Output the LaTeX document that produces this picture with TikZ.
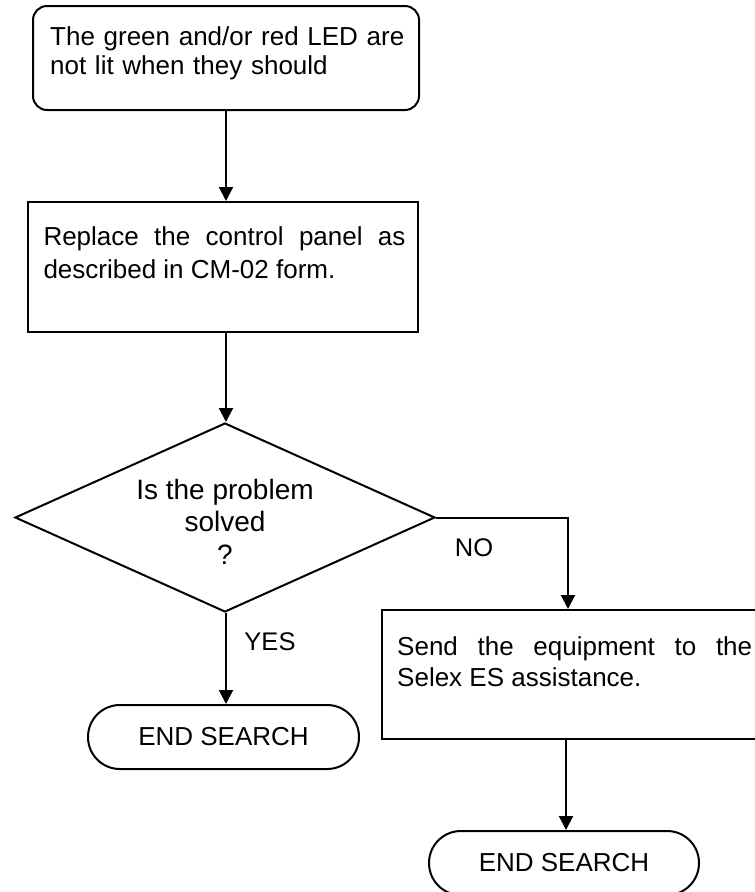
\documentclass[tikz,border=0pt]{standalone}
\usepackage{fontspec}
\setmainfont{Liberation Sans}
\usetikzlibrary{shapes.geometric,arrows.meta,calc}

\tikzset{
  every picture/.style={x=1pt,y=-1pt},
  frame/.style={draw=black,line width=2pt,inner sep=0pt,fill=white},
  procbox/.style={frame,rectangle},
  startbox/.style={frame,rectangle,rounded corners=14pt},
  termbox/.style={frame,rectangle,rounded corners=31.9pt,font=\fontsize{26}{30}\selectfont},
  decbox/.style={frame,diamond},
  bodytext/.style={inner sep=0pt,anchor=north west,align=justify},
  flow/.style={draw=black,line width=2pt,-{Triangle[length=14pt,width=14pt]}},
  tag/.style={inner sep=0pt,font=\fontsize{25.5}{30}\selectfont}
}

\begin{document}
\begin{tikzpicture}
\clip (0,0) rectangle (755,892);
\fill[white] (0,0) rectangle (755,892);

% starting condition
\node[startbox,minimum width=386pt,minimum height=104pt] (start) at (226,58) {};
\node[bodytext,text width=360pt,align=left,font=\fontsize{26}{29.3}\selectfont]
  (starttxt) at (50,24.5) {\strut The green and/or red LED are not lit when they should};

% first action
\node[procbox,minimum width=390pt,minimum height=130pt] (panel) at (223,267) {};
\node[bodytext,text width=362pt,font=\fontsize{26}{32.6}\selectfont,
  execute at begin node={\hyphenpenalty=10000}]
  (paneltxt) at (43.3,222.9) {\strut Replace the control panel as described in CM-02 form.};

% decision
\node[decbox,minimum width=420pt,minimum height=189pt] (check) at (225,517.5) {};
\node[inner sep=0pt,anchor=north,align=center,font=\fontsize{28}{32.7}\selectfont]
  (checktxt) at (225,476.1) {\strut Is the problem\\solved\\?};

% assistance action
\node[procbox,minimum width=384pt,minimum height=129pt] (assist) at (574,674.5) {};
\node[bodytext,text width=355pt,font=\fontsize{26}{30.5}\selectfont,
  execute at begin node={\hyphenpenalty=10000}]
  (assisttxt) at (397,634.4) {\strut Send the equipment to the Selex ES assistance.};

% terminators
\node[termbox,minimum width=271pt,minimum height=64pt] (endA) at (223.5,737) {END SEARCH};
\node[termbox,minimum width=270pt,minimum height=64pt] (endB) at (564,863) {END SEARCH};

% connectors
\coordinate (colA) at (226,0);
\coordinate (colB) at (568,0);
\coordinate (colC) at (566,0);
\draw[flow] (colA |- start.south) -- (colA |- panel.north);
\draw[flow] (colA |- panel.south) -- (colA |- check.north);
\draw[flow] (colA |- check.south) -- (colA |- endA.north);
\draw[flow] (check.east) -| (colB |- assist.north);
\draw[flow] (colC |- assist.south) -- (colC |- endB.north);

% branch labels
\node[tag] (yes) at (270,642) {YES};
\node[tag] (no) at (474,548) {NO};
\end{tikzpicture}
\end{document}
